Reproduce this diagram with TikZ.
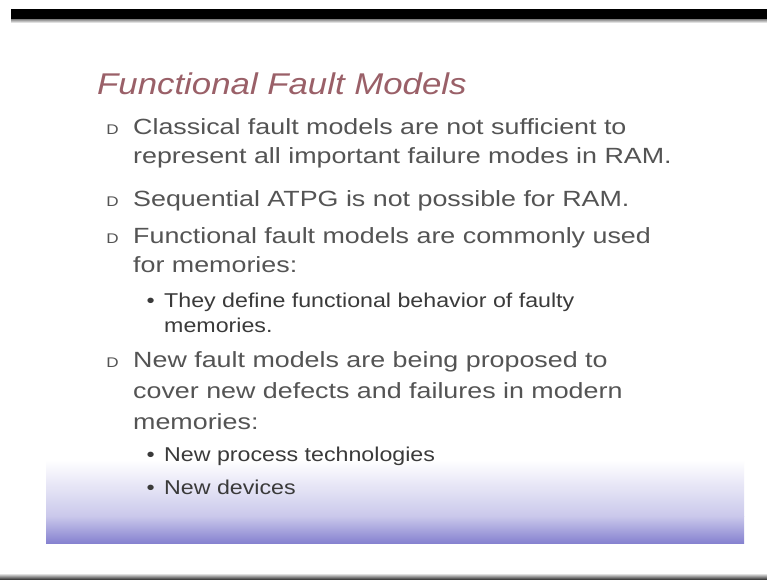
\documentclass[tikz,border=0pt]{standalone}
\usepackage{fontspec}
\usepackage{xcolor}
\usepackage{tikz}
\usetikzlibrary{positioning}

\newfontfamily\titlefont[FakeStretch=1.16]{Liberation Sans}
\newfontfamily\bodyfont[FakeStretch=1.22]{Liberation Sans}
\newfontfamily\subfont[FakeStretch=1.16]{Liberation Sans}

\definecolor{titlered}{HTML}{9A6068}
\definecolor{bodygray}{HTML}{545454}
\definecolor{subgray}{HTML}{3A3A3A}
\definecolor{bandmid}{HTML}{CAC8EB}
\definecolor{bandblue}{HTML}{8682D0}

\begin{document}
\begin{tikzpicture}[
    x=1pt, y=-1pt,
    titletext/.style={anchor=base west, inner sep=0pt, text=titlered,
        font=\titlefont\itshape\fontsize{30}{30}\selectfont},
    bodytext/.style={anchor=base west, inner sep=0pt, text=bodygray,
        font=\bodyfont\fontsize{22}{22}\selectfont},
    subtext/.style={anchor=base west, inner sep=0pt, text=subgray,
        font=\subfont\fontsize{20}{20}\selectfont},
    marker/.style={anchor=base east, inner sep=0pt, text=bodygray,
        font=\bodyfont\fontsize{14}{14}\selectfont},
    dot/.style={anchor=base east, inner sep=0pt, text=subgray,
        font=\subfont\fontsize{20}{20}\selectfont}
]
\useasboundingbox (0,0) rectangle (767,579);
\fill[white] (0,0) rectangle (767,579);

% frame
\fill[black] (11,9) rectangle (767,19);
\shade[top color=gray, bottom color=white] (11,19) rectangle (767,23);
\shade[top color=white, bottom color=black!75] (0,573) rectangle (767,579);

% band at the bottom
\shade[top color=white, bottom color=bandmid] (46,460) rectangle (744,516);
\shade[top color=bandmid, bottom color=bandblue] (46,516) rectangle (744,543);

% title
\node[titletext] (title) at (97,94) {Functional Fault Models};

% main points
\node[bodytext] (cls1) at (133,134) {Classical fault models are not sufficient to};
\node[bodytext] (cls2) at (133,163) {represent all important failure modes in RAM.};
\node[bodytext] (seq) at (133,206) {Sequential ATPG is not possible for RAM.};
\node[bodytext] (func1) at (133,243) {Functional fault models are commonly used};
\node[bodytext] (func2) at (133,272) {for memories:};
\node[subtext] (def1) at (164,307) {They define functional behavior of faulty};
\node[subtext] (def2) at (164,332) {memories.};
\node[bodytext] (new1) at (133,367) {New fault models are being proposed to};
\node[bodytext] (new2) at (133,398) {cover new defects and failures in modern};
\node[bodytext] (new3) at (133,429) {memories:};
\node[subtext] (proc) at (164,461) {New process technologies};
\node[subtext] (dev) at (164,494) {New devices};

% bullet markers
\foreach \n in {cls1, seq, func1, new1} {
    \node[marker] (m\n) at ([xshift=-14pt]\n.base west) {D};
}
\foreach \n in {def1, proc, dev} {
    \node[dot] (d\n) at ([xshift=-9pt]\n.base west) {•};
}

\end{tikzpicture}
\end{document}
